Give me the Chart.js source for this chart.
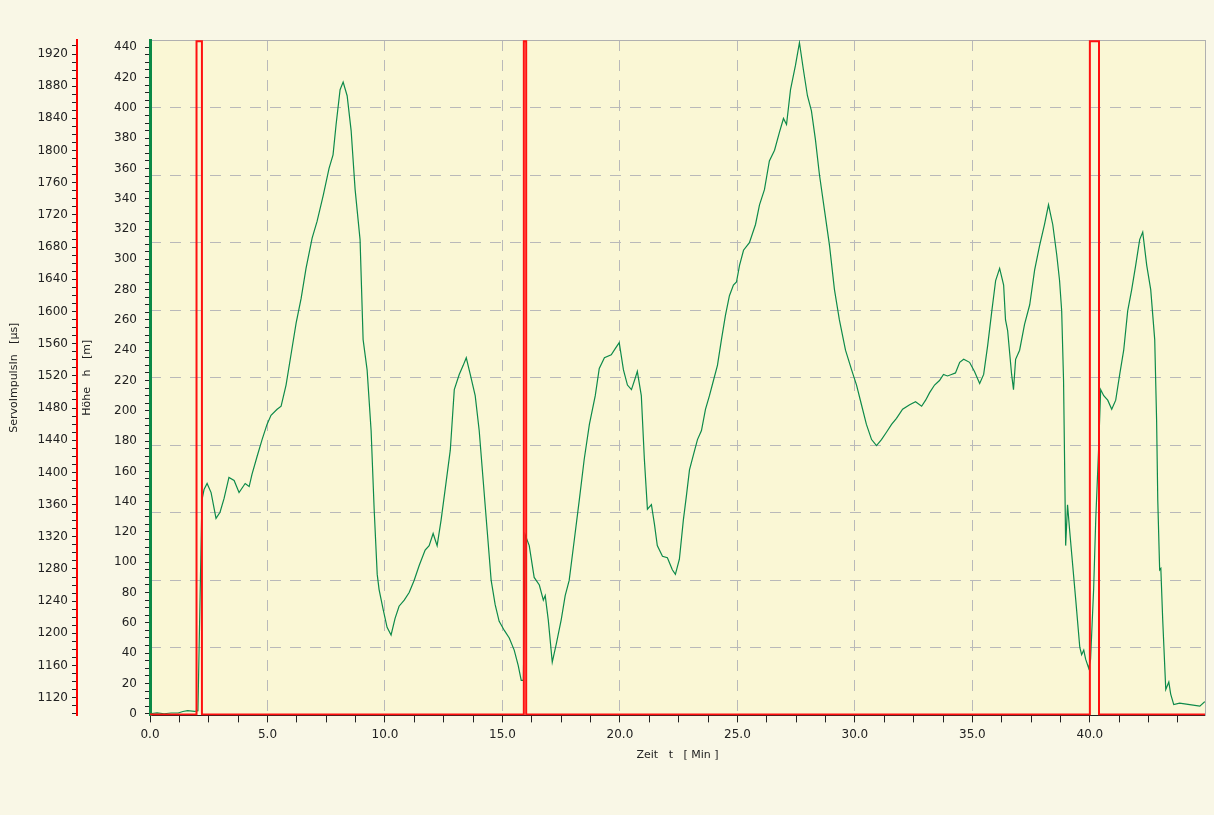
<!DOCTYPE html>
<html>
<head>
<meta charset="utf-8">
<script src="https://cdn.jsdelivr.net/npm/chart.js@4.4.0/dist/chart.umd.min.js"></script>
<style>
  html, body { margin: 0; padding: 0; background: #f9f7e6; }
  #wrap { width: 1214px; height: 815px; position: relative; }
</style>
</head>
<body>
<div id="wrap"><canvas id="chart" width="1214" height="815"></canvas></div>
<script>
// Höhe (m) gegen Zeit (Min)
var hTimes = [0, 0.3, 0.6, 0.9, 1.2, 1.4, 1.6, 1.9, 2.04,
  2.21, 2.30, 2.43, 2.60, 2.81, 2.98, 3.15, 3.36, 3.58, 3.79, 4.05, 4.22, 4.34, 4.56, 4.77, 4.98,
  5.15, 5.41, 5.58, 5.79, 6.00, 6.22, 6.43, 6.64, 6.90, 7.11, 7.37, 7.62, 7.79, 7.92, 8.09, 8.22,
  8.39, 8.56, 8.73, 8.94, 9.07, 9.24, 9.41, 9.54, 9.67, 9.75, 9.92, 10.09, 10.26, 10.43, 10.60,
  10.82, 11.03, 11.24, 11.46, 11.71, 11.88, 12.05, 12.22, 12.39, 12.56, 12.78, 12.95, 13.16, 13.33,
  13.46, 13.63, 13.84, 14.01, 14.18, 14.35, 14.52, 14.69, 14.86, 15.08, 15.29, 15.50, 15.67, 15.80,
  15.89, 15.97, 16.14, 16.35, 16.57, 16.74, 16.82, 16.95, 17.12, 17.29, 17.50, 17.67, 17.84, 18.06,
  18.27, 18.48, 18.70, 18.95, 19.12, 19.34, 19.63, 19.80, 19.97, 20.15, 20.32, 20.49, 20.66, 20.74,
  20.91, 21.04, 21.17, 21.34, 21.47, 21.59, 21.81, 22.02, 22.23, 22.36, 22.53, 22.70, 22.83, 22.96,
  23.13, 23.30, 23.47, 23.64, 23.81, 23.98, 24.15, 24.32, 24.49, 24.66, 24.83, 24.96, 25.09, 25.26,
  25.51, 25.77, 25.94, 26.15, 26.36, 26.58, 26.79, 26.96, 27.09, 27.26, 27.47, 27.64, 27.81, 27.98,
  28.15, 28.32, 28.49, 28.71, 28.92, 29.13, 29.34, 29.60, 29.86, 30.07, 30.28, 30.49, 30.71, 30.92,
  31.13, 31.35, 31.56, 31.77, 32.03, 32.33, 32.58, 32.84, 33.01, 33.18, 33.39, 33.60, 33.77, 33.94,
  34.11, 34.28, 34.46, 34.63, 34.88, 35.09, 35.31, 35.48, 35.65, 35.82, 35.99, 36.16, 36.33, 36.41,
  36.50, 36.67, 36.75, 36.84, 37.01, 37.22, 37.44, 37.65, 37.86, 38.07, 38.24, 38.42, 38.59, 38.71,
  38.80, 38.88, 38.97, 39.05, 39.14, 39.23, 39.40, 39.57, 39.65, 39.74, 39.82, 39.95, 40.03, 40.16,
  40.25, 40.37, 40.46, 40.59, 40.76, 40.93, 41.10, 41.27, 41.44, 41.61, 41.78, 41.95, 42.12, 42.25,
  42.42, 42.59, 42.76, 42.84, 42.89, 42.97, 43.02, 43.10, 43.23, 43.36, 43.44, 43.57, 43.82, 44.25,
  44.68, 44.89];
var hValues = [0, 0.5, 0, 0.5, 0.5, 1.5, 2, 1.5, 2,
  141, 148, 152, 146, 129, 133, 142, 156, 154, 146, 152, 150, 158, 170, 181, 191,
  197, 201, 203, 217, 237, 258, 274, 294, 314, 325, 342, 360, 369, 389, 412, 417,
  408, 385, 346, 313, 247, 227, 187, 135, 92, 82, 69, 57, 52, 63, 71,
  75, 80, 88, 98, 108, 111, 119, 111, 128, 148, 174, 214, 224, 230,
  235, 224, 210, 187, 154, 121, 88, 72, 61, 55, 50, 42, 32, 22,
  22, 118, 111, 90, 85, 75, 78, 62, 34, 46, 62, 78, 88, 115,
  141, 168, 191, 210, 228, 235, 237, 241, 245, 227, 217, 214, 222, 226,
  210, 168, 135, 138, 125, 111, 104, 103, 95, 92, 102, 128, 144, 161,
  171, 181, 187, 201, 210, 220, 230, 247, 263, 276, 283, 285, 296, 306,
  311, 323, 336, 346, 365, 372, 384, 393, 389, 412, 428, 443, 425, 408,
  398, 379, 356, 332, 309, 280, 260, 240, 227, 217, 204, 191, 181, 177,
  181, 186, 191, 195, 201, 204, 206, 203, 207, 212, 217, 220, 224, 223,
  224, 225, 232, 234, 232, 226, 218, 224, 243, 265, 286, 294, 283, 260,
  253, 224, 214, 234, 240, 257, 270, 293, 309, 323, 336, 323, 303, 286,
  266, 220, 111, 138, 121, 105, 75, 44, 39, 42, 36, 30, 36, 82,
  128, 174, 214, 210, 207, 201, 207, 224, 240, 266, 280, 296, 313, 318,
  296, 280, 247, 194, 141, 95, 96, 62, 16, 21, 13, 6, 7, 6,
  5, 8];

// ServoImpulsIn (µs) gegen Zeit (Min)
var sTimes = [0, 1.98, 1.98, 2.21, 2.21, 15.91, 15.91, 16.01, 16.01, 40.0, 40.0, 40.39, 40.39, 44.9];
var sValues = [1099, 1099, 1936, 1936, 1099, 1099, 1936, 1936, 1099, 1099, 1936, 1936, 1099, 1099];

var xMin = 0, xMax = 44.9;
var hMin = -1.1, hMax = 444.8;
var sMin = 1098, sMax = 1937.4;

var hPoints = hTimes.map(function(t, i) { return {x: t, y: hValues[i]}; });
var sPoints = sTimes.map(function(t, i) { return {x: t, y: sValues[i]}; });

var tickFont = {family: 'DejaVu Sans', size: 12};
var titleFont = {family: 'DejaVu Sans', size: 11};

var areaBg = {
  id: 'areaBg',
  beforeDraw: function(chart) {
    var a = chart.chartArea, ctx = chart.ctx;
    ctx.save();
    ctx.fillStyle = '#f9f7e6';
    ctx.fillRect(0, 0, chart.width, chart.height);
    ctx.fillStyle = '#faf7d5';
    ctx.fillRect(a.left, a.top, a.right - a.left, a.bottom - a.top);
    ctx.restore();
  }
};

new Chart(document.getElementById('chart'), {
  type: 'line',
  data: {
    datasets: [
      {
        label: 'ServoImpulsIn',
        data: sPoints,
        yAxisID: 's',
        borderColor: '#ff1010',
        borderWidth: 2,
        pointRadius: 0,
        tension: 0
      },
      {
        label: 'Höhe',
        data: hPoints,
        yAxisID: 'h',
        borderColor: '#0d8a4a',
        borderWidth: 1.2,
        pointRadius: 0,
        tension: 0
      }
    ]
  },
  plugins: [areaBg],
  options: {
    responsive: false,
    animation: false,
    layout: {padding: {left: 0, right: 9, top: 40, bottom: 49}},
    plugins: {legend: {display: false}, tooltip: {enabled: false}},
    scales: {
      x: {
        type: 'linear',
        position: 'bottom',
        min: xMin, max: xMax,
        ticks: {
          stepSize: 1.25, autoSkip: false, maxRotation: 0, includeBounds: false,
          font: tickFont, color: '#222', padding: 5,
          callback: function(v) { return v % 5 === 0 ? v.toFixed(1) : ''; }
        },
        grid: {
          color: function(c) { return (c.tick && c.tick.value % 5 === 0 && c.tick.value > 0) ? '#b9b9b9' : 'rgba(0,0,0,0)'; },
          tickColor: '#222', tickLength: 7, lineWidth: 1
        },
        border: {display: true, color: '#222', width: 1, dash: [11, 9]},
        title: {display: true, text: 'Zeit   t   [ Min ]', font: titleFont, color: '#222', padding: {top: 2, bottom: 4}}
      },
      xt: {
        type: 'linear', position: 'top', min: 0, max: 1,
        ticks: {display: false},
        grid: {display: false, drawTicks: false},
        border: {display: true, color: '#b0b0b0', width: 1},
        afterFit: function(s) { s.height = 0; }
      },
      g: {
        type: 'linear', position: 'right', min: 0, max: 10,
        ticks: {display: false, stepSize: 1},
        grid: {
          drawTicks: false,
          color: function(c) { return (c.tick && c.tick.value > 0 && c.tick.value < 10) ? '#b9b9b9' : 'rgba(0,0,0,0)'; }
        },
        border: {display: true, color: '#b0b0b0', width: 1, dash: [11, 9]},
        afterFit: function(s) { s.width = 0; }
      },
      h: {
        type: 'linear', position: 'left', weight: 1,
        min: hMin, max: hMax,
        ticks: {
          stepSize: 5, autoSkip: false, includeBounds: false,
          font: tickFont, color: '#222', padding: 8,
          callback: function(v) { return v % 20 === 0 ? String(v) : ''; }
        },
        grid: {drawOnChartArea: false, tickColor: '#222', tickLength: 5},
        border: {display: true, color: '#0a8a46', width: 3},
        title: {display: true, text: 'Höhe   h   [m]', font: titleFont, color: '#222', padding: {top: 4, bottom: 0}},
        afterFit: function(s) { s.width = 73; }
      },
      s: {
        type: 'linear', position: 'left', weight: 2,
        min: sMin, max: sMax,
        ticks: {
          stepSize: 10, autoSkip: false, includeBounds: false,
          font: tickFont, color: '#222', padding: 4,
          callback: function(v) { return v % 40 === 0 ? String(v) : ''; }
        },
        grid: {drawOnChartArea: false, tickColor: '#222', tickLength: 5},
        border: {display: true, color: '#ff0000', width: 2},
        title: {display: true, text: 'ServoImpulsIn   [µs]', font: titleFont, color: '#222', padding: {top: 8, bottom: 0}},
        afterFit: function(s) { s.width = 77; }
      }
    }
  }
});
</script>
</body>
</html>
